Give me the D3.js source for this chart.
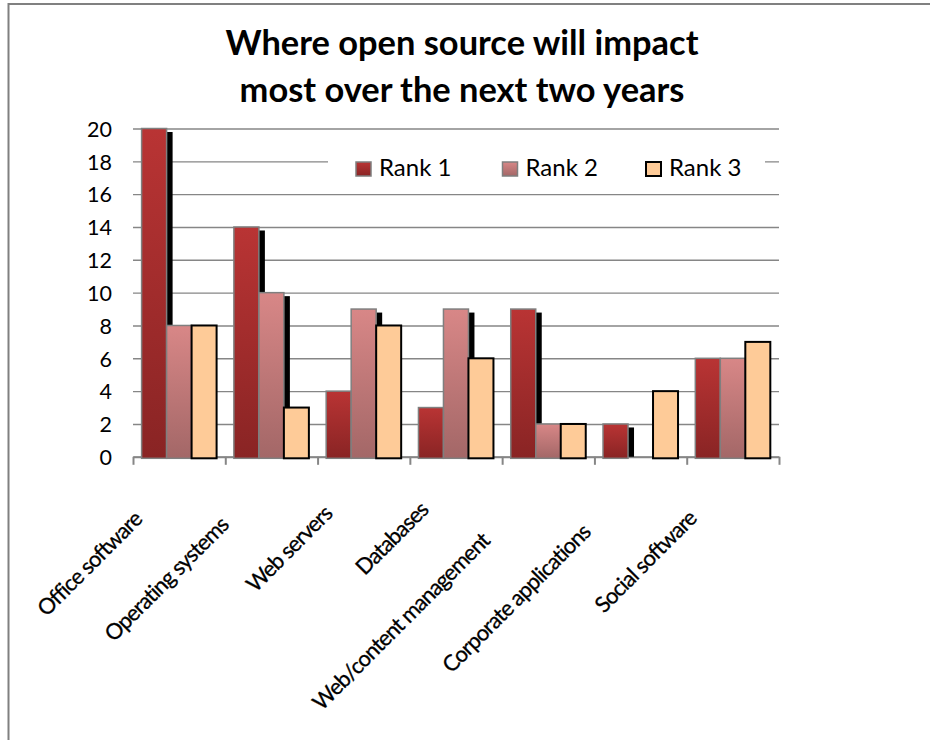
<!DOCTYPE html>
<html>
<head>
<meta charset="utf-8">
<script src="https://cdn.jsdelivr.net/npm/d3@7"></script>
<style>
  html, body { margin: 0; padding: 0; background: #ffffff; }
  svg { display: block; }
  text { font-family: Lato, "Open Sans", "Noto Sans", sans-serif; fill: #000; }
</style>
</head>
<body>
<div id="chart"></div>
<script>
// ---- data ----
const titleLines = ["Where open source will impact", "most over the next two years"];
const categories = ["Office software", "Operating systems", "Web servers", "Databases",
                    "Web/content management", "Corporate applications", "Social software"];
const seriesNames = ["Rank 1", "Rank 2", "Rank 3"];
const rank1 = [20, 14, 4, 3, 9, 2, 6];
const rank2 = [8, 10, 9, 9, 2, 0, 6];
const rank3 = [8, 3, 8, 6, 2, 4, 7];
const yTicks = [0, 2, 4, 6, 8, 10, 12, 14, 16, 18, 20];

const seriesValues = [rank1, rank2, rank3];

// ---- layout ----
const W = 930, H = 740;
const plotLeft = 133, plotRight = 779, plotTop = 128.5, plotBottom = 456.8;
const gridColor = "#868686";

const svg = d3.select("#chart").append("svg").attr("width", W).attr("height", H);
const defs = svg.append("defs");

function grad(id, c0, c1) {
  const g = defs.append("linearGradient").attr("id", id)
    .attr("x1", 0).attr("y1", 0).attr("x2", 0).attr("y2", 1);
  g.append("stop").attr("offset", "0%").attr("stop-color", c0);
  g.append("stop").attr("offset", "100%").attr("stop-color", c1);
}
grad("g1", "#b93434", "#892424");
grad("g2", "#d88787", "#a36767");

const fills = ["url(#g1)", "url(#g2)", "#fecb98"];
const strokes = ["#7f7f7f", "#7f7f7f", "#000000"];
const strokeW = [1.5, 1.5, 2];
const hasShadow = [true, true, false];

// frame
svg.append("rect").attr("x", 8.5).attr("y", 4).attr("width", 1000).attr("height", 1000)
  .attr("fill", "none").attr("stroke", "#808080").attr("stroke-width", 2);

// title
const title = svg.append("g");
const tl = title.selectAll("text").data(titleLines).join("text")
  .attr("x", 462).attr("y", (d, i) => 55 + i * 47)
  .attr("text-anchor", "middle").attr("font-weight", "bold").attr("font-size", 36)
  .text(d => d);
{
  const w = tl.nodes()[0].getComputedTextLength();
  const fs = 36 * 473 / w;
  tl.attr("font-size", fs);
}

// scales
const x0 = d3.scaleBand().domain(categories).range([plotLeft, plotRight]).padding(0);
const x1 = d3.scaleBand().domain(seriesNames).range([8.6, 83.6]).padding(0);
const y = d3.scaleLinear().domain([0, 20]).range([plotBottom, plotTop]);
const xIdx = d3.scaleLinear().domain([0, categories.length]).range([plotLeft, plotRight]);

// gridlines + y labels
const yAxis = svg.append("g").attr("transform", `translate(${plotLeft},0)`)
  .call(d3.axisLeft(y).tickValues(yTicks).tickFormat(d3.format("d"))
        .tickSize(-(plotRight - plotLeft)).tickPadding(21));
yAxis.select(".domain").remove();
yAxis.selectAll(".tick line").attr("stroke", gridColor).attr("stroke-width", 1.4);
yAxis.selectAll(".tick text").attr("font-size", 21.5).attr("fill", "#000")
  .style("font-family", "Lato, 'Open Sans', sans-serif").attr("dy", "0.36em");

// x axis line with ticks at category boundaries
const xAxis = svg.append("g").attr("transform", `translate(0,${plotBottom})`)
  .call(d3.axisBottom(xIdx).tickValues(d3.range(categories.length + 1)).tickFormat("")
        .tickSize(8).tickSizeOuter(0));
xAxis.select(".domain").attr("stroke", gridColor).attr("stroke-width", 2);
xAxis.selectAll(".tick line").attr("stroke", gridColor).attr("stroke-width", 2);

// bars
const groups = svg.append("g").selectAll("g").data(categories).join("g")
  .attr("transform", d => `translate(${x0(d)},0)`);

groups.each(function(cat, ci) {
  const g = d3.select(this);
  seriesNames.forEach((s, si) => {
    const v = seriesValues[si][ci];
    if (v <= 0) return;
    if (hasShadow[si]) {
      g.append("rect")
        .attr("x", x1(s) + 6).attr("y", y(v) + 3.5)
        .attr("width", x1.bandwidth()).attr("height", Math.max(0, y(0) - y(v) - 3.5))
        .attr("fill", "#000");
    }
    g.append("rect")
      .attr("x", x1(s)).attr("y", y(v))
      .attr("width", x1.bandwidth()).attr("height", y(0) - y(v) + 1.5)
      .attr("fill", fills[si]).attr("stroke", strokes[si]).attr("stroke-width", strokeW[si]);
  });
});

// category labels (rotated)
const labels = svg.append("g").selectAll("text").data(categories).join("text")
  .attr("font-size", 22).attr("text-anchor", "end").style("letter-spacing", "-0.9px")
  .attr("stroke", "#000").attr("stroke-width", 0.3)
  .text(d => d);
labels.each(function(d) {
  const L = this.getComputedTextLength();
  const cx = x0(d) + x0.bandwidth() / 2;
  const bx = cx - 7 - 0.21 * L;
  const by = 492 + 0.21 * L;
  d3.select(this).attr("transform", `translate(${bx},${by}) rotate(-45)`);
});

// legend
const legendX = [356, 502.5, 646];
svg.append("rect").attr("x", 328).attr("y", 146).attr("width", 437).attr("height", 44)
  .attr("fill", "#fff");
const leg = svg.append("g").selectAll("g").data(seriesNames).join("g")
  .attr("transform", (d, i) => `translate(${legendX[i]},162)`);
leg.append("rect").attr("x", 0).attr("y", 0).attr("width", 15).attr("height", 14)
  .attr("fill", (d, i) => fills[i]).attr("stroke", (d, i) => strokes[i])
  .attr("stroke-width", (d, i) => i === 2 ? 2 : 1.5);
leg.append("text").attr("x", 23).attr("y", 14).attr("font-size", 24).text(d => d);
</script>
</body>
</html>
